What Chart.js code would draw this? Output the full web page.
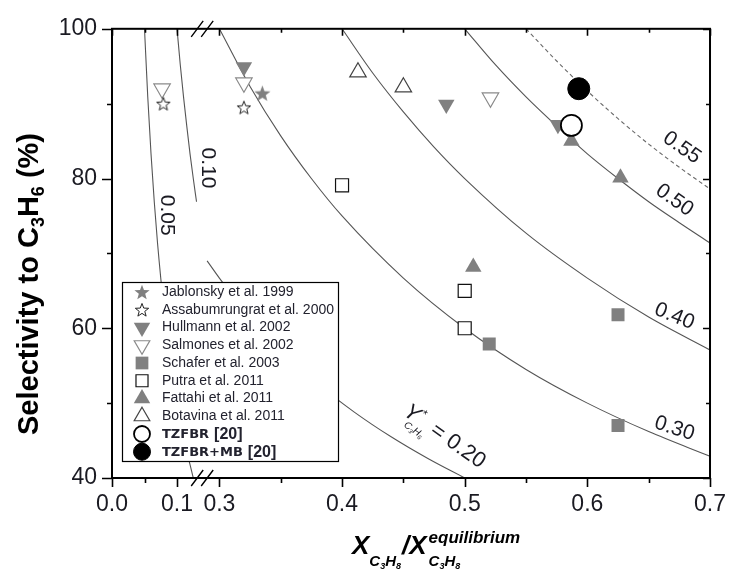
<!DOCTYPE html>
<html>
<head>
<meta charset="utf-8">
<script src="https://cdn.jsdelivr.net/npm/chart.js@4.4.1/dist/chart.umd.min.js"></script>
<style>
html,body{margin:0;padding:0;background:#fff;}
#wrap{width:739px;height:571px;}
</style>
</head>
<body>
<div id="wrap"><canvas id="chart"></canvas></div>
<script>
const FONT = '"Liberation Sans", Arial, Helvetica, sans-serif';
const GRAY = '#808080';

/* AXES */

const xTickValues = [0.0, 0.05, 0.1, 0.3, 0.35, 0.4, 0.45, 0.5, 0.55, 0.6, 0.65, 0.7];
const xTickLabels = ['0.0', '', '0.1', '0.3', '', '0.4', '', '0.5', '', '0.6', '', '0.7'];
const yTickValues = [40, 50, 60, 70, 80, 90, 100];
const yTickLabels = ['40', '', '60', '', '80', '', '100'];

/* ISO-YIELD CURVES */

const curve005X = [0.05, 0.055, 0.06, 0.065, 0.07, 0.08, 0.09, 0.10, 0.11, 0.125];
const curve005S = [100, 90.9, 83.3, 76.9, 71.4, 62.5, 55.6, 50.0, 45.5, 40.0];

const curve010X = [0.10, 0.105, 0.11, 0.115, 0.12, 0.125, 0.13];
const curve010S = [100, 95.2, 90.9, 87.0, 83.3, 80.0, 76.9];

const curve020X = [0.29, 0.30, 0.32, 0.35, 0.38, 0.41, 0.44, 0.47, 0.50];
const curve020S = [69.0, 66.7, 62.5, 57.1, 52.6, 48.8, 45.5, 42.6, 40.0];

const curve030X = [0.30, 0.325, 0.35, 0.375, 0.40, 0.45, 0.50, 0.55, 0.60, 0.65, 0.70];
const curve030S = [100, 92.3, 85.7, 80.0, 75.0, 66.7, 60.0, 54.5, 50.0, 46.2, 42.9];

const curve040X = [0.40, 0.425, 0.45, 0.475, 0.50, 0.55, 0.60, 0.65, 0.70];
const curve040S = [100, 94.1, 88.9, 84.2, 80.0, 72.7, 66.7, 61.5, 57.1];

const curve050X = [0.50, 0.525, 0.55, 0.575, 0.60, 0.625, 0.65, 0.675, 0.70];
const curve050S = [100, 95.2, 90.9, 87.0, 83.3, 80.0, 76.9, 74.1, 71.4];

const curve055X = [0.55, 0.575, 0.60, 0.625, 0.65, 0.675, 0.70];
const curve055S = [100, 95.7, 91.7, 88.0, 84.6, 81.5, 78.6];

/* LITERATURE POINTS */

const jablonskyX = [0.335];
const jablonskyS = [91.4];
const assabumrungratX = [0.079, 0.320];
const assabumrungratS = [90.0, 89.5];
const hullmannX = [0.320, 0.485, 0.576];
const hullmannS = [94.9, 89.9, 87.2];
const salmonesX = [0.077, 0.320, 0.521];
const salmonesS = [92.0, 92.8, 90.8];
const schaferX = [0.520, 0.625, 0.625];
const schaferS = [57.9, 61.8, 47.0];
const putraX = [0.400, 0.500, 0.500];
const putraS = [79.1, 65.0, 60.0];
const fattahiX = [0.507, 0.587, 0.627];
const fattahiS = [68.2, 85.0, 80.1];
const botavinaX = [0.413, 0.450];
const botavinaS = [94.2, 92.2];
const tzfbrX = [0.587];
const tzfbrS = [87.1];
const tzfbrMbX = [0.593];
const tzfbrMbS = [92.0];

function pts(xs, ys){
  return xs.map((x, i) => ({ x: x, y: ys[i] }));
}

/* BROKEN X SCALE  (0 - 0.1 // 0.3 - 0.7) */

const LEFT_SPAN = 66 / 607;
const RIGHT_START = 109 / 607;

function toFraction(v){
  if(v < 0.2) return v / 0.1 * LEFT_SPAN;
  return RIGHT_START + (v - 0.3) / 0.4 * (1 - RIGHT_START);
}

class BrokenScale extends Chart.LinearScale {
  static id = 'broken';
  static defaults = {};
  buildTicks(){
    return xTickValues.map(v => ({ value: v }));
  }
  getPixelForValue(value){
    return this.getPixelForDecimal(toFraction(value));
  }
  getValueForPixel(pixel){
    const f = this.getDecimalForPixel(pixel);
    if(f < (LEFT_SPAN + RIGHT_START) / 2) return f / LEFT_SPAN * 0.1;
    return 0.3 + (f - RIGHT_START) / (1 - RIGHT_START) * 0.4;
  }
}
Chart.register(BrokenScale);

/* MARKERS */

function starPath(g, cx, cy, R){
  const r = R * 0.42;
  g.beginPath();
  for(let k = 0; k < 10; k++){
    const a = -Math.PI / 2 + k * Math.PI / 5;
    const rr = k % 2 ? r : R;
    g.lineTo(cx + rr * Math.cos(a), cy + rr * Math.sin(a));
  }
  g.closePath();
}

function makeStar(R, fill, stroke, lw){
  const c = document.createElement('canvas');
  const s = Math.ceil(2 * R + 4);
  c.width = s; c.height = s;
  const g = c.getContext('2d');
  starPath(g, s / 2, s / 2 + R * 0.1, R);
  g.fillStyle = fill;
  g.fill();
  if(lw > 0){
    g.lineWidth = lw;
    g.strokeStyle = stroke;
    g.stroke();
  }
  return c;
}

function drawShape(g, m, x, y, r){
  g.save();
  g.fillStyle = m.fill;
  g.strokeStyle = m.stroke;
  g.lineWidth = m.lw;
  if(m.shape === 'star'){
    starPath(g, x, y + r * 0.1, r);
  } else if(m.shape === 'triDown' || m.shape === 'triUp'){
    let a = m.shape === 'triDown' ? Math.PI : 0;
    g.beginPath();
    for(let k = 0; k < 3; k++){
      g.lineTo(x + Math.sin(a) * r, y - Math.cos(a) * r);
      a += Math.PI * 2 / 3;
    }
    g.closePath();
  } else if(m.shape === 'rect'){
    const h = r * Math.SQRT1_2;
    g.beginPath();
    g.rect(x - h, y - h, 2 * h, 2 * h);
  } else {
    g.beginPath();
    g.arc(x, y, r, 0, Math.PI * 2);
  }
  g.fill();
  if(m.lw > 0) g.stroke();
  g.restore();
}

const markerSets = [
  { label: 'Jablonsky et al. 1999', xs: jablonskyX, ys: jablonskyS, shape: 'star', fill: GRAY, stroke: GRAY, lw: 0, r: 8.5, lr: 8 },
  { label: 'Assabumrungrat et al. 2000', xs: assabumrungratX, ys: assabumrungratS, shape: 'star', fill: '#fff', stroke: '#222', lw: 1, r: 7, lr: 7 },
  { label: 'Hullmann et al. 2002', xs: hullmannX, ys: hullmannS, shape: 'triDown', fill: GRAY, stroke: GRAY, lw: 0, r: 9.5, lr: 9.5 },
  { label: 'Salmones et al. 2002', xs: salmonesX, ys: salmonesS, shape: 'triDown', fill: '#fff', stroke: '#8a8a8a', lw: 1.2, r: 9.5, lr: 9 },
  { label: 'Schafer et al. 2003', xs: schaferX, ys: schaferS, shape: 'rect', fill: GRAY, stroke: GRAY, lw: 0, r: 9.2, lr: 9 },
  { label: 'Putra et al. 2011', xs: putraX, ys: putraS, shape: 'rect', fill: '#fff', stroke: '#111', lw: 1.2, r: 9.2, lr: 8.5 },
  { label: 'Fattahi et al. 2011', xs: fattahiX, ys: fattahiS, shape: 'triUp', fill: GRAY, stroke: GRAY, lw: 0, r: 9.5, lr: 9.5 },
  { label: 'Botavina et al. 2011', xs: botavinaX, ys: botavinaS, shape: 'triUp', fill: '#fff', stroke: '#444', lw: 1.2, r: 9.5, lr: 9 },
  { label: 'TZFBR', ref: '[20]', xs: tzfbrX, ys: tzfbrS, shape: 'circle', fill: '#fff', stroke: '#000', lw: 1.8, r: 10.5, lr: 8 },
  { label: 'TZFBR+MB', ref: '[20]', xs: tzfbrMbX, ys: tzfbrMbS, shape: 'circle', fill: '#000', stroke: '#000', lw: 1, r: 11, lr: 8.5 }
];

const chartStyle = { triDown: 'triangle', triUp: 'triangle', rect: 'rect', circle: 'circle' };

const markerDatasets = markerSets.map((m, i) => ({
  label: m.label,
  data: pts(m.xs, m.ys),
  showLine: false,
  order: m.shape === 'circle' ? 0 : 1 + i,
  pointStyle: m.shape === 'star' ? makeStar(m.r, m.fill, m.stroke, m.lw) : chartStyle[m.shape],
  pointRotation: m.shape === 'triDown' ? 180 : 0,
  pointRadius: m.r,
  pointBackgroundColor: m.fill,
  pointBorderColor: m.stroke,
  pointBorderWidth: m.lw
}));

function curve(xs, ys, dashed){
  return {
    data: pts(xs, ys),
    showLine: true,
    order: 50,
    pointRadius: 0,
    borderColor: dashed ? '#6a6a6a' : '#555',
    borderWidth: 1.1,
    borderDash: dashed ? [4, 3] : [],
    cubicInterpolationMode: 'monotone'
  };
}

const curveDatasets = [
  curve(curve005X, curve005S),
  curve(curve010X, curve010S),
  curve(curve020X, curve020S),
  curve(curve030X, curve030S),
  curve(curve040X, curve040S),
  curve(curve050X, curve050S),
  curve(curve055X, curve055S, true)
];

/* CURVE LABELS */

const curveTags = [
  { text: '0.05', x: 0.085, y: 75.1, rot: 90 },
  { text: '0.10', x: 0.148, y: 81.4, rot: 90 },
  { text: '0.30', x: 0.671, y: 46.6, rot: 18 },
  { text: '0.40', x: 0.671, y: 61.6, rot: 22 },
  { text: '0.50', x: 0.671, y: 77.1, rot: 35 },
  { text: '0.55', x: 0.677, y: 84.1, rot: 35 }
];

function drawPieces(ctx, pieces, x0, y0){
  let x = x0;
  pieces.forEach(p => {
    ctx.font = p.font;
    ctx.fillText(p.t, x, y0 + (p.dy || 0));
    x += ctx.measureText(p.t).width + (p.gap || 0);
  });
  return x;
}

function piecesWidth(ctx, pieces){
  let w = 0;
  pieces.forEach(p => {
    ctx.font = p.font;
    w += ctx.measureText(p.t).width + (p.gap || 0);
  });
  return w;
}

const annotations = {
  id: 'annotations',
  afterDatasetsDraw(chart){
    const { ctx, scales: { x, y } } = chart;
    ctx.save();
    ctx.fillStyle = '#1a1a22';
    ctx.textAlign = 'center';
    ctx.textBaseline = 'middle';

    curveTags.forEach(t => {
      ctx.save();
      ctx.translate(x.getPixelForValue(t.x), y.getPixelForValue(t.y));
      ctx.rotate(t.rot * Math.PI / 180);
      ctx.font = '21px ' + FONT;
      ctx.fillText(t.text, 0, 0);
      ctx.restore();
    });

    // Y*_C3H6 = 0.20
    ctx.save();
    ctx.translate(x.getPixelForValue(0.449), y.getPixelForValue(48.5));
    ctx.rotate(35 * Math.PI / 180);
    ctx.textAlign = 'left';
    ctx.textBaseline = 'alphabetic';
    ctx.font = 'italic 22px ' + FONT;
    ctx.fillText('Y', 0, 0);
    const wy = ctx.measureText('Y').width;
    ctx.font = '12px ' + FONT;
    ctx.fillText('*', wy + 1, -9);
    const subEnd = drawPieces(ctx, [
      { t: 'C', font: 'italic 10px ' + FONT },
      { t: '3', font: 'italic 6px ' + FONT, dy: 2 },
      { t: 'H', font: 'italic 10px ' + FONT },
      { t: '6', font: 'italic 6px ' + FONT, dy: 2 }
    ], wy - 7, 9);
    ctx.font = '22px ' + FONT;
    ctx.fillText(' = 0.20', subEnd - 2, 0);
    ctx.restore();

    // legend box
    const lx = 122, ly = 282, lw = 216, lh = 179;
    ctx.fillStyle = '#fff';
    ctx.fillRect(lx, ly, lw, lh);
    ctx.strokeStyle = '#000';
    ctx.lineWidth = 1.2;
    ctx.strokeRect(lx + 0.5, ly + 0.5, lw, lh);

    ctx.textAlign = 'left';
    ctx.textBaseline = 'middle';
    markerSets.forEach((m, i) => {
      const ry = 292 + i * 17.75;
      drawShape(ctx, m, 142, ry, m.lr);
      ctx.fillStyle = '#22222e';
      if(m.ref){
        drawPieces(ctx, [
          { t: m.label, font: 'bold 13px "DejaVu Sans", ' + FONT, gap: 5 },
          { t: m.ref, font: 'bold 16px ' + FONT }
        ], 162, ry + 1);
      } else {
        ctx.font = '14px ' + FONT;
        ctx.fillText(m.label, 162, ry);
      }
    });
    ctx.restore();
  },

  afterDraw(chart){
    const { ctx, chartArea: a, scales: { x, y } } = chart;
    ctx.save();
    ctx.strokeStyle = '#000';

    // frame
    ctx.lineWidth = 2;
    ctx.strokeRect(a.left, a.top, a.right - a.left, a.bottom - a.top);

    // ticks
    ctx.lineWidth = 1.6;
    ctx.beginPath();
    xTickValues.forEach((v, i) => {
      const px = Math.round(x.getPixelForValue(v)) + 0.5;
      const major = xTickLabels[i] !== '';
      ctx.moveTo(px, a.bottom);
      ctx.lineTo(px, a.bottom + (major ? 9 : 5));
      ctx.moveTo(px, a.top);
      ctx.lineTo(px, a.top + (major ? 7 : 4));
    });
    yTickValues.forEach((v, i) => {
      const py = Math.round(y.getPixelForValue(v)) + 0.5;
      const major = yTickLabels[i] !== '';
      ctx.moveTo(a.left, py);
      ctx.lineTo(a.left - (major ? 10 : 5), py);
      ctx.moveTo(a.right, py);
      ctx.lineTo(a.right - (major ? 7 : 4), py);
    });
    ctx.stroke();

    // axis break marks
    const bx = (x.getPixelForValue(0.1) + x.getPixelForValue(0.3)) / 2 + 4;
    ctx.lineWidth = 1.4;
    ctx.beginPath();
    [a.top, a.bottom].forEach(py => {
      [-5, 5].forEach(off => {
        ctx.moveTo(bx + off - 6, py + 8);
        ctx.lineTo(bx + off + 6, py - 8);
      });
    });
    ctx.stroke();

    // y title
    ctx.fillStyle = '#000';
    ctx.textBaseline = 'alphabetic';
    ctx.textAlign = 'left';
    const yTitle = [
      { t: 'Selectivity to C', font: 'bold 29px ' + FONT },
      { t: '3', font: 'bold 18px ' + FONT, dy: 6 },
      { t: 'H', font: 'bold 29px ' + FONT },
      { t: '6', font: 'bold 18px ' + FONT, dy: 6 },
      { t: ' (%)', font: 'bold 29px ' + FONT }
    ];
    ctx.save();
    ctx.translate(38, 284);
    ctx.rotate(-Math.PI / 2);
    drawPieces(ctx, yTitle, -piecesWidth(ctx, yTitle) / 2, 0);
    ctx.restore();

    // x title
    const sub = [
      { t: 'C', font: 'italic bold 15px ' + FONT },
      { t: '3', font: 'italic bold 9px ' + FONT, dy: 3 },
      { t: 'H', font: 'italic bold 15px ' + FONT },
      { t: '8', font: 'italic bold 9px ' + FONT, dy: 3 }
    ];
    let tx = drawPieces(ctx, [{ t: 'X', font: 'italic bold 26px ' + FONT }], 352, 554);
    tx = drawPieces(ctx, sub, tx, 566);
    tx = drawPieces(ctx, [{ t: '/', font: 'italic bold 26px ' + FONT }, { t: 'X', font: 'italic bold 26px ' + FONT, gap: 2 }], tx + 1, 554);
    drawPieces(ctx, [{ t: 'equilibrium', font: 'italic bold 17px ' + FONT }], tx, 543);
    drawPieces(ctx, sub, tx, 566);

    ctx.restore();
  }
};

/* CHART */

new Chart(document.getElementById('chart'), {
  type: 'scatter',
  data: { datasets: curveDatasets.concat(markerDatasets) },
  options: {
    responsive: true,
    maintainAspectRatio: false,
    animation: false,
    events: [],
    layout: { padding: { top: 21, right: 20, left: 0, bottom: 0 } },
    plugins: { legend: { display: false }, tooltip: { enabled: false } },
    scales: {
      x: {
        type: 'broken',
        min: 0,
        max: 0.7,
        grid: { display: false, drawTicks: false },
        border: { display: false },
        ticks: {
          autoSkip: false,
          maxRotation: 0,
          padding: 13,
          color: '#1a1a22',
          font: { size: 23, family: FONT },
          callback: (v, i) => xTickLabels[i]
        },
        afterFit: s => { s.height = 93; }
      },
      y: {
        type: 'linear',
        min: 40,
        max: 100,
        afterBuildTicks: s => { s.ticks = yTickValues.map(v => ({ value: v })); },
        grid: { display: false, drawTicks: false },
        border: { display: false },
        ticks: {
          padding: 15,
          color: '#1a1a22',
          font: { size: 23, family: FONT },
          callback: (v, i) => yTickLabels[i]
        },
        afterFit: s => { s.width = 112; }
      }
    }
  },
  plugins: [annotations]
});
</script>
</body>
</html>
